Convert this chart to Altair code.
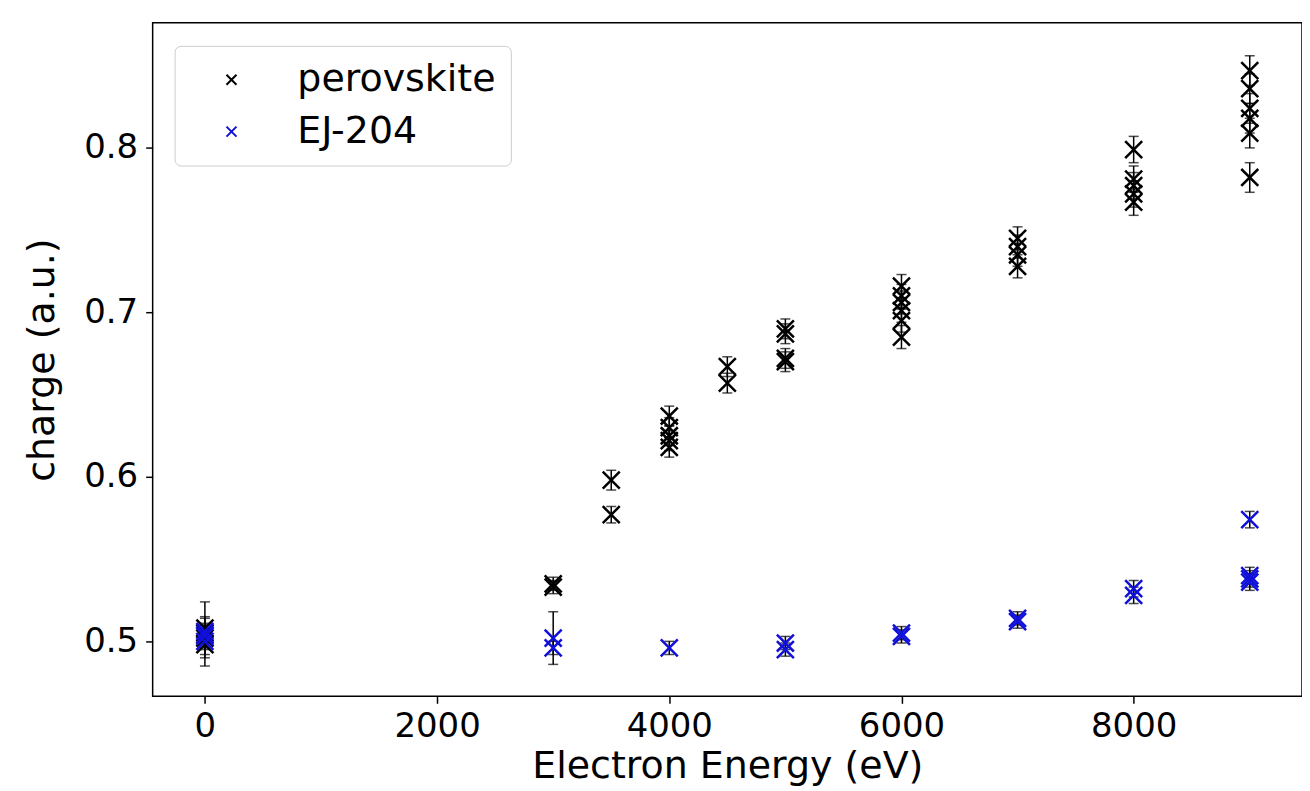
import altair as alt
import pandas as pd

# ---- data ----
pero_x = [0, 0, 0, 0,
          3000, 3000,
          3500, 3500,
          4000, 4000, 4000, 4000, 4000,
          4500, 4500,
          5000, 5000, 5000, 5000,
          6000, 6000, 6000, 6000, 6000, 6000,
          7000, 7000, 7000, 7000,
          8000, 8000, 8000, 8000, 8000,
          9000, 9000, 9000, 9000, 9000, 9000]
pero_y = [0.498, 0.502, 0.505, 0.508,
          0.533, 0.535,
          0.598, 0.577,
          0.637, 0.630, 0.625, 0.622, 0.618,
          0.667, 0.657,
          0.690, 0.687, 0.672, 0.670,
          0.716, 0.710, 0.706, 0.701, 0.695, 0.685,
          0.745, 0.740, 0.735, 0.728,
          0.799, 0.781, 0.777, 0.772, 0.767,
          0.847, 0.836, 0.824, 0.818, 0.809, 0.782]
pero_err = [0.013, 0.012, 0.010, 0.016,
            0.004, 0.004,
            0.006, 0.005,
            0.006, 0.006, 0.006, 0.006, 0.006,
            0.006, 0.006,
            0.006, 0.006, 0.006, 0.006,
            0.007, 0.007, 0.007, 0.007, 0.007, 0.007,
            0.007, 0.007, 0.007, 0.007,
            0.008, 0.008, 0.008, 0.008, 0.008,
            0.009, 0.009, 0.009, 0.009, 0.009, 0.009]

ej_x = [0, 0, 0, 0,
        3000, 3000,
        4000,
        5000, 5000,
        6000, 6000,
        7000, 7000,
        8000, 8000,
        9000, 9000, 9000, 9000]
ej_y = [0.500, 0.503, 0.506, 0.504,
        0.502, 0.496,
        0.496,
        0.495, 0.499,
        0.503, 0.505,
        0.512, 0.514,
        0.532, 0.528,
        0.574, 0.540, 0.538, 0.536]
ej_err = [0.004, 0.004, 0.004, 0.004,
          0.016, 0.004,
          0.004,
          0.004, 0.004,
          0.004, 0.004,
          0.004, 0.004,
          0.005, 0.005,
          0.005, 0.005, 0.005, 0.005]

series_names = ["perovskite", "EJ-204"]
series_colors = ["black", "#1010d8"]
x_ticks = [0, 2000, 4000, 6000, 8000]
y_ticks = [0.5, 0.6, 0.7, 0.8]

rows = []
for name, xs, ys, es in [("perovskite", pero_x, pero_y, pero_err),
                         ("EJ-204", ej_x, ej_y, ej_err)]:
    for xv, yv, ev in zip(xs, ys, es):
        rows.append({"energy": xv, "charge": yv, "lo": yv - ev, "hi": yv + ev,
                     "series": name})
df = pd.DataFrame(rows)

XPATH = "M-1,-1L1,1M-1,1L1,-1"
FONT = "DejaVu Sans"

xscale = alt.Scale(domain=[-450, 9450], nice=False, zero=False)
yscale = alt.Scale(domain=[0.4666, 0.876], nice=False, zero=False)

xaxis = alt.Axis(values=x_ticks, title="Electron Energy (eV)", grid=False, domain=False,
                 tickColor="black", tickWidth=1.5, tickSize=7, labelFontSize=34,
                 labelColor="black", labelFont=FONT, labelPadding=6,
                 titleFont=FONT, titleFontSize=38, titleFontWeight="normal",
                 titleColor="black", titlePadding=4, format="d")
yaxis = alt.Axis(values=y_ticks, title="charge (a.u.)", grid=False, domain=False,
                 tickColor="black", tickWidth=1.5, tickSize=7, labelFontSize=34,
                 labelColor="black", labelFont=FONT, labelPadding=8,
                 titleFont=FONT, titleFontSize=38, titleFontWeight="normal",
                 titleColor="black", titlePadding=22, format=".1f")

base = alt.Chart(df)

bars = base.mark_errorbar(ticks={"size": 10, "thickness": 1.5}, color="black",
                          thickness=1.5).encode(
    x=alt.X("energy:Q", scale=xscale, axis=xaxis),
    y=alt.Y("lo:Q", scale=yscale, axis=yaxis),
    y2="hi:Q",
    detail="series:N",
)

points = base.mark_point(shape=XPATH, filled=False, size=290, strokeWidth=2.5,
                         opacity=1).encode(
    x=alt.X("energy:Q", scale=xscale, axis=xaxis),
    y=alt.Y("charge:Q", scale=yscale, axis=yaxis),
    color=alt.Color("series:N",
                    scale=alt.Scale(domain=series_names, range=series_colors),
                    sort=series_names,
                    legend=alt.Legend(title=None, orient="none", legendX=22, legendY=23,
                                      labelFontSize=38, labelFont=FONT, labelColor="black",
                                      symbolType=XPATH, symbolSize=100,
                                      symbolStrokeWidth=2, symbolFillColor="transparent",
                                      symbolOffset=23, labelOffset=47,
                                      rowPadding=14, padding=15,
                                      fillColor="white", strokeColor="#cccccc",
                                      cornerRadius=6, labelLimit=400)),
)

chart = alt.layer(bars, points).properties(
    width=1152, height=675,
    autosize="none",
    padding={"left": 145, "top": 14, "right": 0, "bottom": 90},
    background="white",
).configure_view(stroke="black", strokeWidth=1.5)

chart.save("out.html", embed_options={"renderer": "svg", "actions": False})
